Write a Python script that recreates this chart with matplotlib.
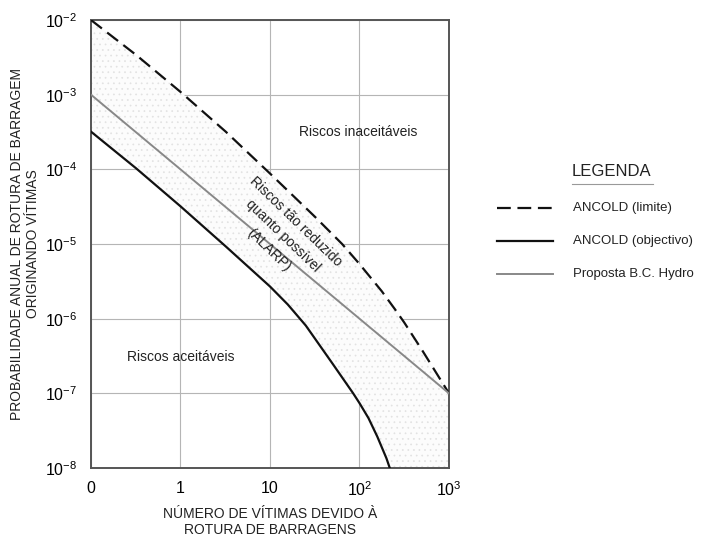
import matplotlib.pyplot as plt
from matplotlib.patches import Polygon
from matplotlib.lines import Line2D

plt.rcParams['font.family'] = ['Liberation Sans', 'DejaVu Sans']
plt.rcParams['mathtext.fontset'] = 'custom'
plt.rcParams['mathtext.rm'] = 'Liberation Sans'
plt.rcParams['mathtext.it'] = 'Liberation Sans:italic'
plt.rcParams['mathtext.bf'] = 'Liberation Sans:bold'
plt.rcParams['hatch.linewidth'] = 0.5

# N = 0 is drawn at 0.1 on the log axis
limite_x = [0.1, 0.32, 1, 3.2, 10, 32, 64, 100, 177, 251, 316, 500, 1000]
limite_y = [1e-2, 3.4e-3, 1.09e-3, 3.2e-4, 8.8e-5, 2.3e-5, 1e-5, 5.4e-6,
            2.34e-6, 1.32e-6, 8.9e-7, 3.8e-7, 1e-7]

objectivo_x = [0.1, 0.32, 1, 3.2, 10, 15.8, 25.1, 50, 85, 100, 126, 158, 200, 218]
objectivo_y = [3.2e-4, 1.03e-4, 3.2e-5, 9.3e-6, 2.7e-6, 1.55e-6, 8.1e-7, 2.5e-7,
               1e-7, 7.4e-8, 4.66e-8, 2.64e-8, 1.35e-8, 1e-8]

bchydro_x = [0.1, 1000]
bchydro_y = [1e-3, 1e-7]

x_ticks = [0.1, 1, 10, 100, 1000]
x_labels = ['0', '1', '10', r'10$^{2}$', r'10$^{3}$']
y_ticks = [1e-8, 1e-7, 1e-6, 1e-5, 1e-4, 1e-3, 1e-2]
y_labels = [r'10$^{-8}$', r'10$^{-7}$', r'10$^{-6}$', r'10$^{-5}$',
            r'10$^{-4}$', r'10$^{-3}$', r'10$^{-2}$']

fig = plt.figure(figsize=(7.01, 5.40), dpi=100)
ax = fig.add_axes([0.1298, 0.1333, 0.5107, 0.8296])
ax.set_xscale('log')
ax.set_yscale('log')
ax.set_xlim(0.1, 1000)
ax.set_ylim(1e-8, 1e-2)

# ALARP region, stippled
verts = list(zip(limite_x, limite_y)) + [(1000, 1e-8)] + list(zip(objectivo_x, objectivo_y))[::-1]
zone = Polygon(verts, closed=True, facecolor='#fcfcfc', edgecolor='#e2e2e2',
               hatch='...', linewidth=0, zorder=1)
ax.add_patch(zone)

ax.grid(True, which='major', color='#b5b5b5', linewidth=0.8, zorder=0)
ax.set_axisbelow(True)

ax.plot(limite_x, limite_y, color='#111111', linewidth=1.6, dashes=(6.2, 3.0), zorder=3)
ax.plot(objectivo_x, objectivo_y, color='#111111', linewidth=1.6, zorder=3)
ax.plot(bchydro_x, bchydro_y, color='#888888', linewidth=1.4, zorder=3)

ax.set_xticks(x_ticks)
ax.set_xticklabels(x_labels, fontsize=11.5)
ax.set_yticks(y_ticks)
ax.set_yticklabels(y_labels, fontsize=11.5)
ax.minorticks_off()
ax.tick_params(axis='x', length=0, pad=9)
ax.tick_params(axis='y', length=0, pad=10)
for s in ax.spines.values():
    s.set_color('#555555')
    s.set_linewidth(1.4)

ax.set_ylabel('PROBABILIDADE ANUAL DE ROTURA DE BARRAGEM\nORIGINANDO VÍTIMAS',
              fontsize=10, color='#222222', linespacing=1.2)
ax.yaxis.set_label_coords(-0.185, 0.5)
ax.yaxis.label.set_va('center')
ax.set_xlabel('NÚMERO DE VÍTIMAS DEVIDO À\nROTURA DE BARRAGENS',
              fontsize=10, color='#222222', linespacing=1.2)
ax.xaxis.set_label_coords(0.5, -0.12)
ax.xaxis.label.set_va('center')

ax.text(0.745, 0.75, 'Riscos inaceitáveis', transform=ax.transAxes,
        ha='center', va='center', fontsize=10, color='#222222')
ax.text(0.25, 0.248, 'Riscos aceitáveis', transform=ax.transAxes,
        ha='center', va='center', fontsize=10, color='#222222')
ax.text(0.535, 0.518, 'Riscos tão reduzido\nquanto possível\n(ALARP)',
        transform=ax.transAxes, ha='center', va='center', fontsize=10,
        color='#222222', rotation=-44, linespacing=1.5)

# legend drawn by hand
fig.text(572 / 701, 1 - 172 / 540, 'LEGENDA', fontsize=12, color='#222222',
         ha='left', va='center')
fig.add_artist(Line2D([572 / 701, 653 / 701], [1 - 184 / 540] * 2,
                      color='#999999', linewidth=0.8))
leg_items = [
    ('ANCOLD (limite)', dict(color='#111111', linewidth=1.6, dashes=(6.2, 3.0)), 208),
    ('ANCOLD (objectivo)', dict(color='#111111', linewidth=1.6), 241),
    ('Proposta B.C. Hydro', dict(color='#888888', linewidth=1.4), 274),
]
for label, style, ypx in leg_items:
    fy = 1 - ypx / 540
    fig.add_artist(Line2D([497 / 701, 553 / 701], [fy, fy], **style))
    fig.text(573 / 701, fy, label, fontsize=9.5, color='#222222',
             ha='left', va='center')

fig.savefig('out.png', dpi=100)
